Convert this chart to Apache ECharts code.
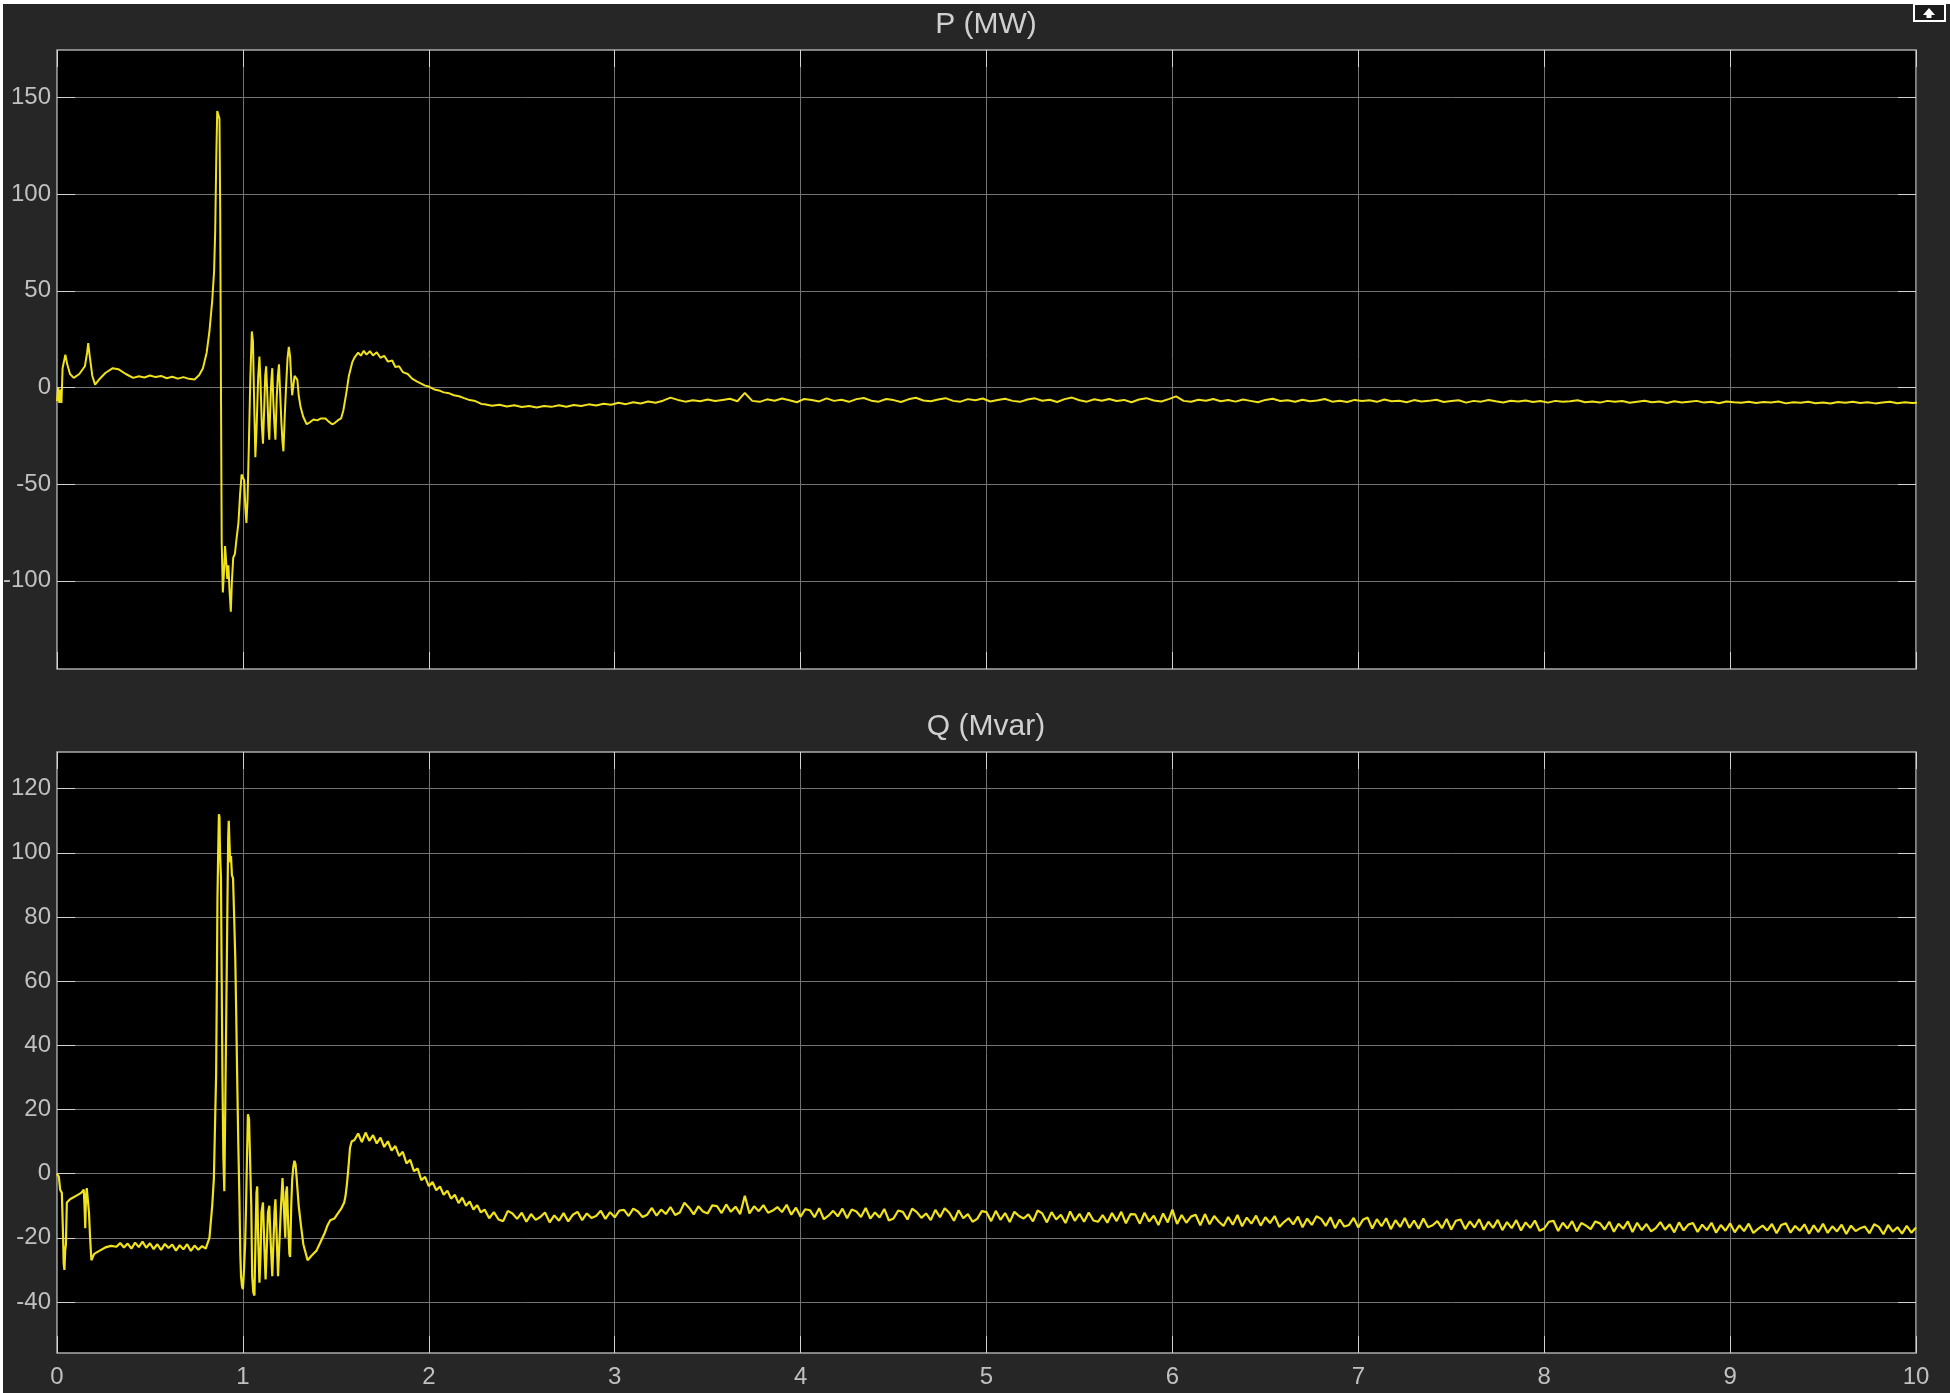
<!DOCTYPE html>
<html>
<head>
<meta charset="utf-8">
<title>P / Q scope</title>
<script src="https://cdn.jsdelivr.net/npm/echarts@6.0.0/dist/echarts.min.js"></script>
<style>
  html, body { margin: 0; padding: 0; background: #fff; width: 1950px; height: 1393px; overflow: hidden; }
  #chart { position: absolute; left: 3px; top: 4px; width: 1947px; height: 1389px; }
</style>
</head>
<body>
<div id="chart"></div>
<script>
// x axis (time, s)
const xTicks = [0, 1, 2, 3, 4, 5, 6, 7, 8, 9, 10];
const pTicks = [-100, -50, 0, 50, 100, 150];
const qTicks = [-40, -20, 0, 20, 40, 60, 80, 100, 120];

// P (MW) - transient part
const pTime = [
  0, 0.006, 0.012, 0.018, 0.024, 0.03, 0.045, 0.055, 0.07, 0.09,
  0.12, 0.15, 0.162, 0.168, 0.175, 0.19, 0.205, 0.225, 0.26, 0.3,
  0.33, 0.37, 0.41, 0.44, 0.47, 0.5, 0.53, 0.56, 0.59, 0.62,
  0.65, 0.68, 0.71, 0.74, 0.765, 0.785, 0.805, 0.82, 0.835, 0.845,
  0.851, 0.857, 0.862, 0.868, 0.874, 0.878, 0.882, 0.886, 0.892, 0.898,
  0.904, 0.91, 0.916, 0.922, 0.928, 0.935, 0.941, 0.948, 0.957, 0.966,
  0.976, 0.985, 0.993, 1.0, 1.007, 1.013, 1.019, 1.025, 1.032, 1.04,
  1.048, 1.054, 1.06, 1.067, 1.074, 1.082, 1.089, 1.095, 1.102, 1.108,
  1.115, 1.12, 1.125, 1.132, 1.137, 1.142, 1.148, 1.153, 1.158, 1.164,
  1.17, 1.175, 1.182, 1.188, 1.194, 1.2, 1.207, 1.213, 1.218, 1.225,
  1.232, 1.24, 1.247, 1.254, 1.26, 1.265, 1.27, 1.278, 1.285, 1.293,
  1.3, 1.31, 1.324, 1.343, 1.36, 1.38, 1.4, 1.42, 1.444, 1.46,
  1.48, 1.492, 1.51, 1.528, 1.54, 1.556, 1.57, 1.588, 1.6, 1.62,
  1.635, 1.65, 1.665, 1.683, 1.7, 1.72, 1.74, 1.76, 1.78, 1.803,
  1.82, 1.84, 1.86, 1.887, 1.91, 1.935, 1.959, 1.98, 2.0, 2.03,
  2.055, 2.08, 2.11, 2.135, 2.163, 2.19, 2.22, 2.25, 2.283
];
const pValue = [
  -7, 0, -8, -1, -8, 10, 17, 12, 7, 5,
  7, 11, 18, 23, 17, 6, 1.5, 4, 7.5, 10,
  9.5, 7, 5, 5.8, 5.2, 6.2, 5.4, 6, 4.8, 5.6,
  4.6, 5.4, 4.5, 4.2, 6.5, 10, 18, 29, 45, 60,
  81, 120, 143, 141, 139, 90, 0, -80, -106, -96,
  -82, -90, -99, -92, -105, -116, -100, -88, -86, -78,
  -70, -55, -45, -44, -48, -62, -70, -58, -30, 5,
  29, 24, -5, -36, -20, 5, 16, 2, -20, -29,
  -10, 6, 11, -5, -20, -27, -8, 4, 10, -8,
  -20, -27, -5, 6, 12, -2, -18, -28, -33, -15,
  0, 15, 21, 16, 4, -4, 0, 6, 7, 4,
  -4, -10, -15, -19, -18, -16.5, -17, -16, -16, -17.5,
  -19, -18.5, -17, -16, -12, -3, 6, 13, 15.5, 18,
  16.5, 19, 17, 18.8, 16.6, 18.2, 15.4, 16.4, 13.4, 14,
  10.6, 11, 8, 7, 4.6, 3.2, 2, 1, 0.5, -1,
  -1.5, -2.5, -3, -4, -4.5, -5.5, -6.5, -7, -8.5
];
// P (MW) - settled part, one sample every 0.04 s from 2.30 s
const pSteadyStart = 2.3;
const pSteadyStep = 0.04;
const pSteady = [
  -8.6, -9.4, -8.9, -9.8, -9.2, -10.1, -9.5, -10.3, -9.6, -10.0,
  -9.2, -9.9, -9.0, -9.6, -8.7, -9.3, -8.4, -8.9, -7.9, -8.6,
  -7.6, -8.3, -7.2, -7.9, -6.8, -5.2, -6.4, -7.3, -6.6, -7.1,
  -6.2, -7.0, -6.4, -5.8, -7.1, -2.8, -6.9, -7.4, -6.1, -6.8,
  -5.7, -6.6, -7.6, -5.9, -6.4, -7.2, -5.6, -6.9, -6.3, -7.4,
  -6.0, -5.4, -6.8, -7.3, -5.9, -6.5, -7.5, -6.1, -5.3, -6.7,
  -7.1, -6.2, -5.5, -6.9, -7.3, -6.0, -6.6, -5.7, -7.2, -6.4,
  -5.8, -6.9, -7.4, -6.2, -5.6, -6.8, -6.3, -7.5, -6.0, -5.2,
  -6.6, -7.3, -6.1, -6.8, -5.9, -7.0, -6.4, -7.6, -6.2, -5.5,
  -6.7, -7.2, -6.0, -4.6, -6.9, -7.4, -6.3, -6.8, -5.9, -7.1,
  -6.5, -7.3, -6.2, -6.9, -7.6, -6.4, -5.8, -7.0, -6.6, -7.4,
  -6.3, -7.1, -6.7, -5.9, -7.3, -6.8, -7.5, -6.4, -7.0, -6.6,
  -7.4, -6.2, -7.1, -6.8, -7.6, -6.5, -7.2, -6.9, -6.3, -7.5,
  -7.0, -6.6, -7.8, -6.9, -7.3, -6.4, -7.1, -7.7, -6.8, -7.2,
  -6.7, -7.5, -7.0, -7.8, -6.9, -7.4, -7.1, -6.6, -7.6, -7.2,
  -7.8, -6.9, -7.4, -7.0, -7.9, -7.3, -6.8, -7.6, -7.2, -8.0,
  -7.1, -7.7, -7.3, -6.9, -7.8, -7.4, -8.1, -7.2, -7.6, -7.9,
  -7.3, -8.0, -7.5, -7.8, -7.2, -8.2, -7.6, -7.9, -7.4, -8.1,
  -7.7, -8.3, -7.5, -7.9, -7.3, -8.0, -7.6, -8.2, -7.8, -7.4,
  -8.1, -7.6, -8.0, -7.7
];

// Q (Mvar) - transient part
const qTime = [
  0, 0.01, 0.017, 0.026, 0.032, 0.036, 0.04, 0.044, 0.048, 0.053,
  0.07, 0.1, 0.13, 0.144, 0.148, 0.152, 0.156, 0.16, 0.165, 0.172,
  0.178, 0.185, 0.2, 0.23, 0.26, 0.29, 0.32, 0.34, 0.36, 0.38,
  0.4, 0.42, 0.44, 0.46, 0.48, 0.5, 0.52, 0.54, 0.56, 0.58,
  0.6, 0.62, 0.64, 0.66, 0.68, 0.7, 0.72, 0.74, 0.76, 0.78,
  0.8, 0.82, 0.835, 0.844, 0.85, 0.856, 0.86, 0.863, 0.867, 0.871,
  0.874, 0.877, 0.882, 0.886, 0.89, 0.895, 0.9, 0.905, 0.911, 0.917,
  0.921, 0.924, 0.928, 0.932, 0.936, 0.941, 0.947, 0.953, 0.959, 0.964,
  0.969, 0.975, 0.981, 0.986, 0.99, 0.995, 1.0, 1.006, 1.012, 1.017,
  1.022, 1.027, 1.033, 1.04, 1.045, 1.05, 1.056, 1.062, 1.068, 1.073,
  1.077, 1.082, 1.089, 1.095, 1.1, 1.108, 1.115, 1.122, 1.128, 1.135,
  1.142, 1.15, 1.158, 1.164, 1.17, 1.175, 1.182, 1.189, 1.196, 1.205,
  1.213, 1.22, 1.228, 1.232, 1.237, 1.243, 1.25, 1.254, 1.26, 1.265,
  1.271, 1.277, 1.283, 1.29, 1.3, 1.312, 1.325, 1.348, 1.37, 1.396,
  1.42, 1.44, 1.456, 1.47, 1.492, 1.51, 1.528, 1.545, 1.552, 1.56,
  1.568, 1.576, 1.585, 1.6, 1.62, 1.64, 1.66, 1.68, 1.7, 1.72,
  1.74, 1.76, 1.78, 1.8, 1.82, 1.84, 1.86, 1.88, 1.9, 1.92,
  1.94, 1.96, 1.98, 2.0, 2.02, 2.04, 2.06, 2.08, 2.1, 2.12,
  2.14, 2.16, 2.18, 2.2, 2.22, 2.24, 2.26, 2.28
];
const qValue = [
  0, -1, -5, -6, -18, -28, -30, -24, -22, -9,
  -8, -7, -6, -5, -10, -17, -7, -4.5, -5, -12,
  -20, -27, -25, -24, -23, -22.5, -22.8, -21.6, -23.0, -21.8,
  -23.4, -21.5, -22.9, -21.2, -23.1, -21.7, -23.5, -22.0, -23.8, -21.9,
  -23.2, -22.1, -24.0, -22.3, -23.6, -22.0, -24.1, -22.4, -23.7, -22.6,
  -23.4, -20, -10, -1.4, 15, 31, 60, 85, 100, 112,
  111, 100, 92, 60, 30, 5, -5.5, 20, 52, 85,
  105, 110, 103, 97, 99, 93, 92, 80, 67, 50,
  31, 10, -7, -25, -32, -35, -36, -30, -22, -10,
  5, 18.5, 17, 17, -10, -32, -37, -38, -20, -6,
  -4, -20, -34, -25, -12, -9, -22, -33, -24, -12,
  -10, -22, -32, -22, -12, -8, -20, -32, -22, -10,
  -1.4, -10, -20, -6, -4, -15, -25, -26, -10, -2,
  2, 4, 3, -2, -10, -16, -22, -27, -25.5, -24,
  -21, -18.5, -16, -14.5, -14, -12.5, -11, -9, -7, -3,
  2, 8, 10, 10.5, 12.5, 9.8, 12.8, 10.2, 12.0, 9.4,
  11.2, 8.3, 10.1, 7.2, 8.6, 5.5, 6.8, 3.2, 4.3, 0.8,
  1.6, -2.0, -1.0, -3.9, -2.6, -5.2, -4.0, -6.6, -5.3, -7.8,
  -6.6, -9.2, -7.5, -10.0, -8.7, -11.2, -9.8, -12.1
];
// Q (Mvar) - settled part, one sample every 0.025 s from 2.30 s
const qSteadyStart = 2.3;
const qSteadyStep = 0.025;
const qSteady = [
  -11.2, -13.9, -12.0, -14.3, -14.8, -11.6, -12.4, -14.1, -12.2, -15.0,
  -12.6, -14.4, -13.5, -12.1, -15.2, -13.0, -14.7, -12.3, -14.9, -12.8,
  -11.9, -14.5, -12.4, -13.8, -13.2, -11.6, -14.1, -12.0, -13.6, -11.5,
  -11.3, -13.2, -10.9, -11.8, -13.5, -12.8, -10.7, -13.1, -11.2, -12.6,
  -10.4, -12.9, -12.1, -9.1, -10.6, -12.7, -10.2, -11.8, -12.4, -9.9,
  -10.1, -12.3, -9.6, -11.9, -10.3, -12.6, -6.9, -12.4, -10.2, -11.7,
  -9.8, -12.2, -11.5, -10.4, -12.0, -9.7, -12.8, -10.6, -13.4, -11.1,
  -11.4, -13.6, -10.8, -14.2, -13.1, -11.6, -13.3, -10.9, -13.9, -11.2,
  -11.8, -13.5, -10.7, -14.0, -12.1, -13.7, -11.0, -14.6, -14.0, -11.5,
  -11.9, -14.3, -10.9, -12.0, -13.8, -12.4, -14.5, -11.3, -13.6, -10.8,
  -12.2, -14.7, -11.4, -13.9, -12.6, -15.0, -14.1, -11.7, -12.0, -14.8,
  -11.6, -14.4, -12.3, -15.1, -11.9, -13.2, -14.0, -12.7, -14.9, -11.5,
  -12.4, -15.2, -12.0, -14.3, -12.8, -15.4, -11.8, -14.7, -12.5, -15.0,
  -12.1, -14.6, -15.0, -12.9, -15.3, -12.3, -14.8, -11.9, -15.5, -12.6,
  -12.7, -15.6, -12.2, -14.9, -13.1, -16.0, -12.4, -15.2, -11.2, -15.7,
  -12.9, -15.3, -13.4, -12.8, -16.1, -12.6, -15.8, -13.2, -15.0, -16.3,
  -13.5, -15.9, -12.9, -16.4, -13.7, -15.6, -13.1, -16.2, -13.6, -15.4,
  -13.2, -16.6, -15.1, -13.9, -15.8, -13.4, -16.7, -14.0, -16.0, -13.3,
  -14.1, -16.3, -13.6, -17.0, -14.3, -16.5, -16.0, -13.8, -16.8, -14.4,
  -13.7, -17.1, -14.2, -16.4, -13.9, -17.3, -14.5, -16.6, -13.8, -16.9,
  -14.6, -17.2, -14.0, -16.7, -16.1, -14.8, -17.0, -14.1, -17.4, -14.7,
  -14.3, -17.3, -14.9, -16.8, -14.2, -17.5, -15.0, -16.9, -14.4, -17.6,
  -15.1, -17.0, -14.5, -17.7, -15.2, -16.9, -14.6, -17.8, -17.1, -15.0,
  -14.7, -17.9, -15.3, -17.1, -14.8, -18.0, -15.4, -16.2, -17.3, -14.9,
  -15.5, -17.4, -15.0, -18.1, -15.6, -17.2, -14.9, -18.2, -15.3, -17.6,
  -15.7, -18.0, -17.0, -15.1, -17.5, -15.8, -18.3, -15.2, -17.7, -15.9,
  -15.4, -18.2, -15.9, -17.6, -15.3, -18.4, -16.0, -17.8, -15.5, -18.3,
  -16.1, -17.9, -15.6, -18.5, -17.2, -16.2, -17.7, -15.7, -18.6, -16.0,
  -15.5, -18.4, -16.3, -17.8, -15.8, -18.7, -16.1, -18.2, -15.6, -18.5,
  -16.4, -18.0, -15.9, -18.8, -16.2, -17.9, -17.0, -16.5, -18.6, -15.8,
  -16.6, -18.9, -16.0, -18.1, -16.7, -18.7, -16.3, -18.4, -16.8
];

const lineColor = '#f0e21c';
const labelColor = '#c0c0c0';
const gridColor = '#737373';
const tickColor = '#d2d2d2';
const fontFamily = '"Liberation Sans", Arial, sans-serif';

function buildSeries(times, values, start, step, steady) {
    const out = times.map((t, i) => [t, values[i]]);
    steady.forEach((v, i) => {
        out.push([+(start + i * step).toFixed(3), v]);
    });
    return out;
}

const pData = buildSeries(pTime, pValue, pSteadyStart, pSteadyStep, pSteady);
const qData = buildSeries(qTime, qValue, qSteadyStart, qSteadyStep, qSteady);

function gridBox(top, height) {
    return {
        left: 54, top: top, width: 1859, height: height,
        show: true, backgroundColor: '#000',
        borderColor: '#ababab', borderWidth: 1.5,
        outerBoundsMode: 'none', containLabel: false
    };
}

function xAxisOf(gridIndex, position, withLabels) {
    return {
        type: 'value', gridIndex: gridIndex, position: position,
        min: 0, max: 10, interval: 1,
        axisLine: { show: false, onZero: false },
        axisTick: { show: true, inside: true, length: 17, lineStyle: { color: tickColor, width: 1 } },
        axisLabel: {
            show: withLabels, color: labelColor, fontSize: 24, margin: 12,
            fontFamily: fontFamily, showMinLabel: true, showMaxLabel: true,
            formatter: v => xTicks.indexOf(v) >= 0 ? String(v) : ''
        },
        splitLine: { show: position === 'bottom', lineStyle: { color: gridColor, width: 1 } }
    };
}

function yAxisOf(gridIndex, position, range, ticks) {
    const left = position === 'left';
    return {
        type: 'value', gridIndex: gridIndex, position: position,
        min: range[0], max: range[1],
        axisLine: { show: false, onZero: false },
        axisTick: { show: true, inside: true, length: 18, customValues: ticks, lineStyle: { color: tickColor, width: 1 } },
        axisLabel: { show: left, customValues: ticks, color: labelColor, fontSize: 24, margin: 6, fontFamily: fontFamily },
        splitLine: { show: left, lineStyle: { color: gridColor, width: 1 } }
    };
}

const chart = echarts.init(document.getElementById('chart'));
chart.setOption({
    backgroundColor: '#262626',
    animation: false,
    grid: [gridBox(46, 619), gridBox(748, 601)],
    xAxis: [
        xAxisOf(0, 'bottom', false),
        xAxisOf(0, 'top', false),
        xAxisOf(1, 'bottom', true),
        xAxisOf(1, 'top', false)
    ],
    yAxis: [
        yAxisOf(0, 'left', [-145.6, 174.6], pTicks),
        yAxisOf(0, 'right', [-145.6, 174.6], pTicks),
        yAxisOf(1, 'left', [-55.9, 131.4], qTicks),
        yAxisOf(1, 'right', [-55.9, 131.4], qTicks)
    ],
    graphic: [
        {
            type: 'text', x: 983, y: 21,
            style: { text: 'P (MW)', fill: '#d0d0d0', font: '30px ' + fontFamily, textAlign: 'center', textVerticalAlign: 'middle' }
        },
        {
            type: 'text', x: 983, y: 723,
            style: { text: 'Q (Mvar)', fill: '#d0d0d0', font: '30px ' + fontFamily, textAlign: 'center', textVerticalAlign: 'middle' }
        },
        {
            type: 'rect', shape: { x: 1911, y: 0, width: 31, height: 17 },
            style: { fill: '#1c1c1c', stroke: '#ffffff', lineWidth: 2 }
        },
        {
            type: 'polygon',
            shape: { points: [[1920, 11], [1926, 4], [1932, 11], [1928.5, 11], [1928.5, 14], [1923.5, 14], [1923.5, 11]] },
            style: { fill: '#ffffff' }
        }
    ],
    series: [
        {
            name: 'P (MW)', type: 'line', xAxisIndex: 0, yAxisIndex: 0,
            data: pData, showSymbol: false, sampling: null, clip: true,
            lineStyle: { color: lineColor, width: 2 }
        },
        {
            name: 'Q (Mvar)', type: 'line', xAxisIndex: 2, yAxisIndex: 2,
            data: qData, showSymbol: false, sampling: null, clip: true,
            lineStyle: { color: lineColor, width: 2.2 }
        }
    ]
});
</script>
</body>
</html>
